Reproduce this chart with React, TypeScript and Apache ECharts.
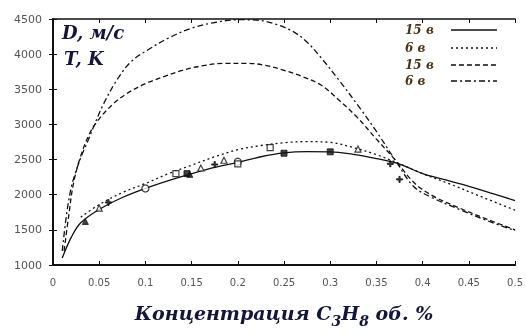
import React, { useEffect, useRef } from "react";
import * as echarts from "echarts";

// Upper curves (T, K)
const outerX = [0.01, 0.015, 0.02, 0.025, 0.031, 0.037, 0.045, 0.055, 0.07, 0.085, 0.105, 0.125, 0.15, 0.175, 0.2, 0.22, 0.24, 0.26, 0.275, 0.29, 0.31, 0.33, 0.35, 0.37, 0.39, 0.41, 0.44, 0.47, 0.5];
const outerY = [1200, 1750, 2120, 2340, 2560, 2740, 3000, 3300, 3650, 3900, 4080, 4230, 4370, 4450, 4490, 4485, 4430, 4320, 4170, 3950, 3620, 3270, 2900, 2500, 2120, 1960, 1790, 1630, 1490];
const innerX = [0.012, 0.017, 0.022, 0.03, 0.04, 0.05, 0.065, 0.08, 0.1, 0.12, 0.14, 0.16, 0.185, 0.21, 0.23, 0.25, 0.27, 0.29, 0.31, 0.33, 0.35, 0.37, 0.39, 0.41, 0.44, 0.47, 0.5];
const innerY = [1200, 1700, 2150, 2550, 2880, 3080, 3290, 3440, 3580, 3680, 3770, 3830, 3870, 3870, 3840, 3770, 3680, 3560, 3340, 3090, 2790, 2500, 2180, 1990, 1810, 1650, 1500];
// Lower curves (D, m/s)
const solidX = [0.01, 0.02, 0.03, 0.05, 0.075, 0.1, 0.125, 0.15, 0.175, 0.2, 0.225, 0.25, 0.275, 0.3, 0.325, 0.35, 0.375, 0.4, 0.425, 0.45, 0.475, 0.5];
const solidY = [1100, 1400, 1600, 1790, 1960, 2090, 2200, 2300, 2390, 2460, 2540, 2595, 2612, 2610, 2575, 2515, 2436, 2300, 2210, 2120, 2020, 1917];
const dottedX = [0.03, 0.05, 0.075, 0.1, 0.125, 0.15, 0.175, 0.2, 0.225, 0.25, 0.275, 0.3, 0.325, 0.35, 0.375, 0.4, 0.43, 0.46, 0.5];
const dottedY = [1680, 1860, 2030, 2160, 2300, 2420, 2540, 2640, 2700, 2740, 2755, 2745, 2670, 2570, 2440, 2300, 2150, 1990, 1780];

// Experimental points
const circX = [0.1, 0.2];
const circY = [2090, 2470];
const sqOpenX = [0.133, 0.2, 0.235];
const sqOpenY = [2300, 2440, 2670];
const sqFillX = [0.145, 0.25, 0.3];
const sqFillY = [2300, 2590, 2610];
const triOpenX = [0.05, 0.16, 0.185, 0.33];
const triOpenY = [1810, 2380, 2490, 2650];
const triFillX = [0.035, 0.148];
const triFillY = [1620, 2290];
const plusX = [0.06, 0.175, 0.365, 0.375];
const plusY = [1890, 2430, 2440, 2218];

const xTicks = ["0", "0.05", "0.1", "0.15", "0.2", "0.25", "0.3", "0.35", "0.4", "0.45", "0.5"];
const legendLabels = ["15 в", "6 в", "15 в", "6 в"];

const zip = (xs: number[], ys: number[]) => xs.map((x, i) => [x, ys[i]]);

export default function App() {
  const ref = useRef<HTMLDivElement>(null);
  useEffect(() => {
    const chart = echarts.init(ref.current!, undefined, { renderer: "svg" });
    const lineBase = (name: string, data: number[][], type: any) => ({
      name,
      type: "line",
      data,
      smooth: 0.35,
      symbol: "none",
      lineStyle: { color: "#111", width: 1.3, type },
      z: 3,
    });
    const scat = (data: number[][], symbol: string, filled: boolean, size = 6) => ({
      type: "scatter",
      data,
      symbol,
      symbolSize: size,
      itemStyle: filled
        ? { color: "#111", borderColor: "#111", borderWidth: 1 }
        : { color: "#fff", borderColor: "#111", borderWidth: 1.2 },
      z: 4,
    });
    const dashes: any[] = ["solid", [2, 3], [5, 3], [6, 3, 2, 3]];
    const legendYs = [30, 48, 65, 81];
    const serif = "DejaVu Serif";
    const titleStyle = { fontFamily: serif, fontWeight: "bold", fontStyle: "italic", fill: "#15153a" };
    const graphics: any[] = [
      { type: "text", left: 62, top: 23, style: { ...titleStyle, text: "D, м/с", fontSize: 18 } },
      { type: "text", left: 64, top: 49, style: { ...titleStyle, text: "T, K", fontSize: 18 } },
    ];
    legendLabels.forEach((lab, i) => {
      graphics.push({
        type: "text",
        x: 405,
        y: legendYs[i],
        style: {
          text: lab,
          fontFamily: serif,
          fontWeight: "bold",
          fontStyle: "italic",
          fontSize: 12,
          fill: "#4a3418",
          verticalAlign: "middle",
        },
      });
      graphics.push({
        type: "line",
        shape: { x1: 451, y1: legendYs[i], x2: 497, y2: legendYs[i] },
        style: { stroke: "#111", lineWidth: i === 0 ? 1.6 : 1.3, lineDash: i === 0 ? null : dashes[i] },
      });
    });
    const rich = {
      a: { fontFamily: serif, fontWeight: "bold", fontStyle: "italic", fontSize: 19, color: "#15153a" },
      s: { fontFamily: serif, fontWeight: "bold", fontStyle: "italic", fontSize: 14, color: "#15153a", padding: [16, 0, 0, 0] },
    };
    chart.setOption({
      animation: false,
      grid: { left: 53, right: 10, top: 19, bottom: 58 },
      xAxis: [
        {
          type: "value",
          min: 0,
          max: 0.5,
          interval: 0.05,
          axisLine: { show: true, lineStyle: { color: "#111", width: 2 } },
          axisTick: { inside: true, length: 4, lineStyle: { color: "#111" } },
          axisLabel: {
            margin: 12,
            fontSize: 10,
            fontFamily: "DejaVu Sans",
            color: "#555",
            formatter: (v: number) => xTicks[Math.round(v / 0.05)] ?? "",
          },
          splitLine: { show: false },
          name: "{a|Концентрация C}{s|3}{a|H}{s|8}{a| об. %}",
          nameLocation: "middle",
          nameGap: 33,
          nameTextStyle: { rich },
        },
        {
          type: "value",
          position: "top",
          min: 0,
          max: 0.5,
          interval: 0.05,
          axisLine: { show: true, lineStyle: { color: "#111", width: 1.5 } },
          axisTick: { inside: true, length: 4, lineStyle: { color: "#111" } },
          axisLabel: { show: false },
          splitLine: { show: false },
        },
      ],
      yAxis: [
        {
          type: "value",
          min: 1000,
          max: 4500,
          interval: 500,
          axisLine: { show: true, lineStyle: { color: "#111", width: 2 } },
          axisTick: { inside: true, length: 4, lineStyle: { color: "#111" } },
          axisLabel: {
            margin: 11,
            fontSize: 11,
            fontFamily: "DejaVu Sans",
            color: "#555",
            formatter: (v: number) => String(v),
          },
          splitLine: { show: false },
        },
        {
          type: "value",
          position: "right",
          min: 1000,
          max: 4500,
          interval: 500,
          axisLine: { show: true, lineStyle: { color: "#111", width: 1.5 } },
          axisTick: { inside: true, length: 4, lineStyle: { color: "#111" } },
          axisLabel: { show: false },
          splitLine: { show: false },
        },
      ],
      series: [
        lineBase("15 в D", zip(solidX, solidY), "solid"),
        lineBase("6 в D", zip(dottedX, dottedY), [2, 3]),
        lineBase("15 в T", zip(innerX, innerY), [5, 3]),
        lineBase("6 в T", zip(outerX, outerY), [6, 3, 2, 3]),
        scat(zip(circX, circY), "circle", false, 7),
        scat(zip(sqOpenX, sqOpenY), "rect", false, 6),
        scat(zip(sqFillX, sqFillY), "rect", true, 6),
        scat(zip(triOpenX, triOpenY), "triangle", false, 6),
        scat(zip(triFillX, triFillY), "triangle", true, 6),
        scat(zip(plusX, plusY), "path://M4,0H6V4H10V6H6V10H4V6H0V4H4Z", true, 6),
      ],
      graphic: graphics,
    });
    return () => chart.dispose();
  }, []);
  return <div ref={ref} style={{ width: 526, height: 333, position: "fixed", left: 0, top: 0 }} />;
}
